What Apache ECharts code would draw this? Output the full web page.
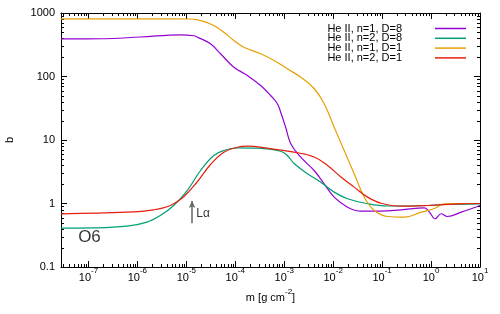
<!DOCTYPE html>
<html><head><meta charset="utf-8">
<script src="https://cdn.jsdelivr.net/npm/echarts@6/dist/echarts.min.js"></script>
<style>html,body{margin:0;padding:0;background:#fff}#c{width:500px;height:314px}</style>
</head><body><div id="c"></div>
<script>
// Series names (legend)
const seriesNames = ['He II, n=1, D=8', 'He II, n=2, D=8', 'He II, n=1, D=1', 'He II, n=2, D=1'];
const seriesColors = ['#9400d3', '#009e73', '#e69f00', '#e51e10'];

// He II, n=1, D=8 : [m, b]
const n1D8 = [
  [2.75e-8, 392], [1.74e-7, 393], [1.15e-6, 419], [7.57e-6, 454], [1.42e-5, 438],
  [1.69e-5, 416], [3.12e-5, 327], [5.0e-5, 228], [9.35e-5, 140], [1.76e-4, 104], [3.30e-4, 72.1],
  [5.28e-4, 50.2], [7.26e-4, 37.2], [8.47e-4, 27.4], [1.07e-3, 15.9], [1.36e-3, 8.71],
  [2.18e-3, 5.36], [4.08e-3, 3.31], [6.55e-3, 2.04], [1.05e-2, 1.26], [1.97e-2, 0.875],
  [3.70e-2, 0.756], [9.48e-2, 0.756], [0.244, 0.796], [0.733, 0.855], [0.927, 0.730],
  [1.21, 0.574], [1.61, 0.689], [2.14, 0.624], [4.14, 0.730], [10, 0.93]
];
// He II, n=2, D=8
const n2D8 = [
  [2.75e-8, 0.408], [1.26e-7, 0.412], [6.12e-7, 0.439], [1.57e-6, 0.508], [2.94e-6, 0.647],
  [5.52e-6, 0.930], [1.04e-5, 1.60], [1.95e-5, 3.31], [3.64e-5, 5.70], [5.83e-5, 6.83],
  [1.10e-4, 7.54], [2.82e-4, 7.43], [8.47e-4, 6.66], [1.16e-3, 5.70], [1.59e-3, 4.26],
  [2.99e-3, 2.94], [5.60e-3, 2.17], [1.05e-2, 1.51], [1.97e-2, 1.19], [5.07e-2, 0.99],
  [0.130, 0.913], [0.859, 0.93], [1.85, 0.965], [10, 0.99]
];
// He II, n=1, D=1
const n1D1 = [
  [2.75e-8, 810], [1.84e-6, 810], [1.04e-5, 805], [1.40e-5, 797], [1.95e-5, 762],
  [3.64e-5, 635], [5.83e-5, 499], [9.35e-5, 369], [1.50e-4, 289],
  [3.30e-4, 228], [6.18e-4, 179], [1.16e-3, 132],
  [2.18e-3, 97.5], [4.08e-3, 64.7], [6.55e-3, 37.2], [1.05e-2, 15.9], [1.68e-2, 6.83],
  [2.69e-2, 2.94], [4.32e-2, 1.26], [6.92e-2, 0.776], [0.130, 0.624], [0.285, 0.608],
  [0.627, 0.730], [1.16, 0.834], [1.85, 0.99], [4.14, 1.0], [10, 1.0]
];
// He II, n=2, D=1
const n2D1 = [
  [2.75e-8, 0.688], [6.12e-7, 0.730], [2.15e-6, 0.796], [4.72e-6, 0.930], [8.85e-6, 1.28],
  [1.66e-5, 2.18], [3.12e-5, 4.11], [5.83e-5, 6.43], [1.10e-4, 7.70], [1.76e-4, 7.99],
  [4.53e-4, 7.43], [1.59e-3, 6.43], [4.08e-3, 5.40], [7.67e-3, 3.97], [1.44e-2, 2.62],
  [2.69e-2, 1.81], [5.07e-2, 1.26], [9.48e-2, 1.01], [0.244, 0.906], [0.859, 0.93],
  [4.14, 0.99], [10, 1.0]
];

// Axis ranges / ticks
const xRange = [2.75e-8, 10];
const yRange = [0.1, 1000];
const minorMultipliers = [2, 3, 4, 5, 6, 7, 8, 9];
const xDecades = [1e-8, 1e-7, 1e-6, 1e-5, 1e-4, 1e-3, 1e-2, 1e-1, 1];
const yDecades = [0.1, 1, 10, 100];

// Annotations
const lyaArrow = [[1.31e-5, 0.49], [1.31e-5, 1.09]];
const lyaText = [[2.2e-5, 0.70]];
const modelText = [[1.05e-7, 0.29]];

const xMinor = [], yMinor = [];
xDecades.forEach(d => minorMultipliers.forEach(k => { const v = k * d; if (v > xRange[0] && v < xRange[1]) xMinor.push([v, yRange[0]]); }));
yDecades.forEach(d => minorMultipliers.forEach(k => { const v = k * d; if (v > yRange[0] && v < yRange[1]) yMinor.push([xRange[0], v]); }));

const FONT = 'Liberation Sans, Arial, sans-serif';
const chart = echarts.init(document.getElementById('c'), null, {renderer: 'canvas'});

function expLabel(v) {
  const l = Math.log10(v), e = Math.round(l);
  if (Math.abs(l - e) > 1e-6) return '';
  return '{b|10}{s|' + e + '}';
}

const axisLineStyle = {show: true, lineStyle: {color: '#000', width: 1}};
const tickStyle = {show: true, inside: true, length: 6, lineStyle: {color: '#000', width: 1}};
const supRich = {
  b: {fontSize: 11, lineHeight: 16, verticalAlign: 'bottom', fontFamily: FONT, color: '#000'},
  s: {fontSize: 8, lineHeight: 6, verticalAlign: 'top', fontFamily: FONT, color: '#000'}
};

const lines = [n1D8, n2D8, n1D1, n2D1].map((d, i) => ({
  name: seriesNames[i], type: 'line', data: d, symbol: 'none', smooth: 0.4,
  xAxisIndex: 0, yAxisIndex: 0,
  lineStyle: {color: seriesColors[i], width: 1.2}, itemStyle: {color: seriesColors[i]},
  z: 3 + i
}));

const option = {
  animation: false,
  textStyle: {fontFamily: FONT},
  grid: {left: 61, right: 20, top: 13, bottom: 47, containLabel: false, outerBoundsMode: 'none'},
  legend: {
    orient: 'vertical', right: 29, top: 18, align: 'right', itemWidth: 31, itemHeight: 1.5, itemGap: -1.2,
    icon: 'rect',
    data: seriesNames.map((n, i) => ({name: n, itemStyle: {color: seriesColors[i]}})),
    textStyle: {fontSize: 11, fontFamily: FONT, color: '#000', padding: [0, 28, 0, 0], lineHeight: 10.6}
  },
  xAxis: [
    {type: 'log', logBase: 10, min: xRange[0], max: xRange[1], position: 'bottom',
     axisLine: axisLineStyle, axisTick: tickStyle, splitLine: {show: false},
     axisLabel: {show: true, showMinLabel: false, margin: 0, formatter: expLabel, color: '#000', rich: supRich},
     name: '{b|m [g cm}{s|-2}{b|]}', nameLocation: 'middle', nameGap: 18,
     nameTextStyle: {fontSize: 11, color: '#000', fontFamily: FONT, rich: supRich}},
    {type: 'log', logBase: 10, min: xRange[0], max: xRange[1], position: 'top',
     axisLine: axisLineStyle, axisTick: tickStyle, splitLine: {show: false}, axisLabel: {show: false}}
  ],
  yAxis: [
    {type: 'log', logBase: 10, min: yRange[0], max: yRange[1], position: 'left',
     axisLine: axisLineStyle, axisTick: tickStyle, splitLine: {show: false},
     axisLabel: {fontSize: 11, color: '#000', margin: 6, fontFamily: FONT, formatter: v => String(+v.toPrecision(3))},
     name: 'b', nameLocation: 'middle', nameGap: 46, nameTextStyle: {fontSize: 11, color: '#000', fontFamily: FONT}},
    {type: 'log', logBase: 10, min: yRange[0], max: yRange[1], position: 'right',
     axisLine: axisLineStyle, axisTick: tickStyle, splitLine: {show: false}, axisLabel: {show: false}}
  ],
  series: [
    ...lines,
    {type: 'custom', name: 'xminor', silent: true, data: xMinor, z: 2,
     renderItem: (p, api) => {
       const b = api.coord([api.value(0), yRange[0]]), t = api.coord([api.value(0), yRange[1]]);
       const x = Math.round(b[0]) + 0.5;
       return {type: 'group', children: [
         {type: 'line', shape: {x1: x, y1: b[1], x2: x, y2: b[1] - 3}, style: {stroke: '#000', lineWidth: 1}},
         {type: 'line', shape: {x1: x, y1: t[1], x2: x, y2: t[1] + 3}, style: {stroke: '#000', lineWidth: 1}}
       ]};
     }},
    {type: 'custom', name: 'yminor', silent: true, data: yMinor, z: 2,
     renderItem: (p, api) => {
       const l = api.coord([xRange[0], api.value(1)]), r = api.coord([xRange[1], api.value(1)]);
       const y = Math.round(l[1]) + 0.5;
       return {type: 'group', children: [
         {type: 'line', shape: {x1: l[0], y1: y, x2: l[0] + 3, y2: y}, style: {stroke: '#000', lineWidth: 1}},
         {type: 'line', shape: {x1: r[0], y1: y, x2: r[0] - 3, y2: y}, style: {stroke: '#000', lineWidth: 1}}
       ]};
     }},
    {type: 'line', name: 'lya', data: [], symbol: 'none', silent: true, z: 8,
     markLine: {silent: true, symbol: ['none', 'arrow'], symbolSize: [5, 7], label: {show: false},
       lineStyle: {color: '#666', width: 1.5, type: 'solid'},
       data: [[{coord: lyaArrow[0]}, {coord: lyaArrow[1]}]]}},
    {type: 'scatter', name: 'lyaText', data: lyaText, symbolSize: 0, silent: true, z: 8,
     label: {show: true, position: 'inside', formatter: 'Lα', fontSize: 12, color: '#000', fontFamily: FONT}},
    {type: 'scatter', name: 'model', data: modelText, symbolSize: 0, silent: true, z: 8,
     label: {show: true, position: 'inside', formatter: 'O6', fontSize: 17, color: '#000', fontFamily: FONT}}
  ]
};
chart.setOption(option);
</script></body></html>
